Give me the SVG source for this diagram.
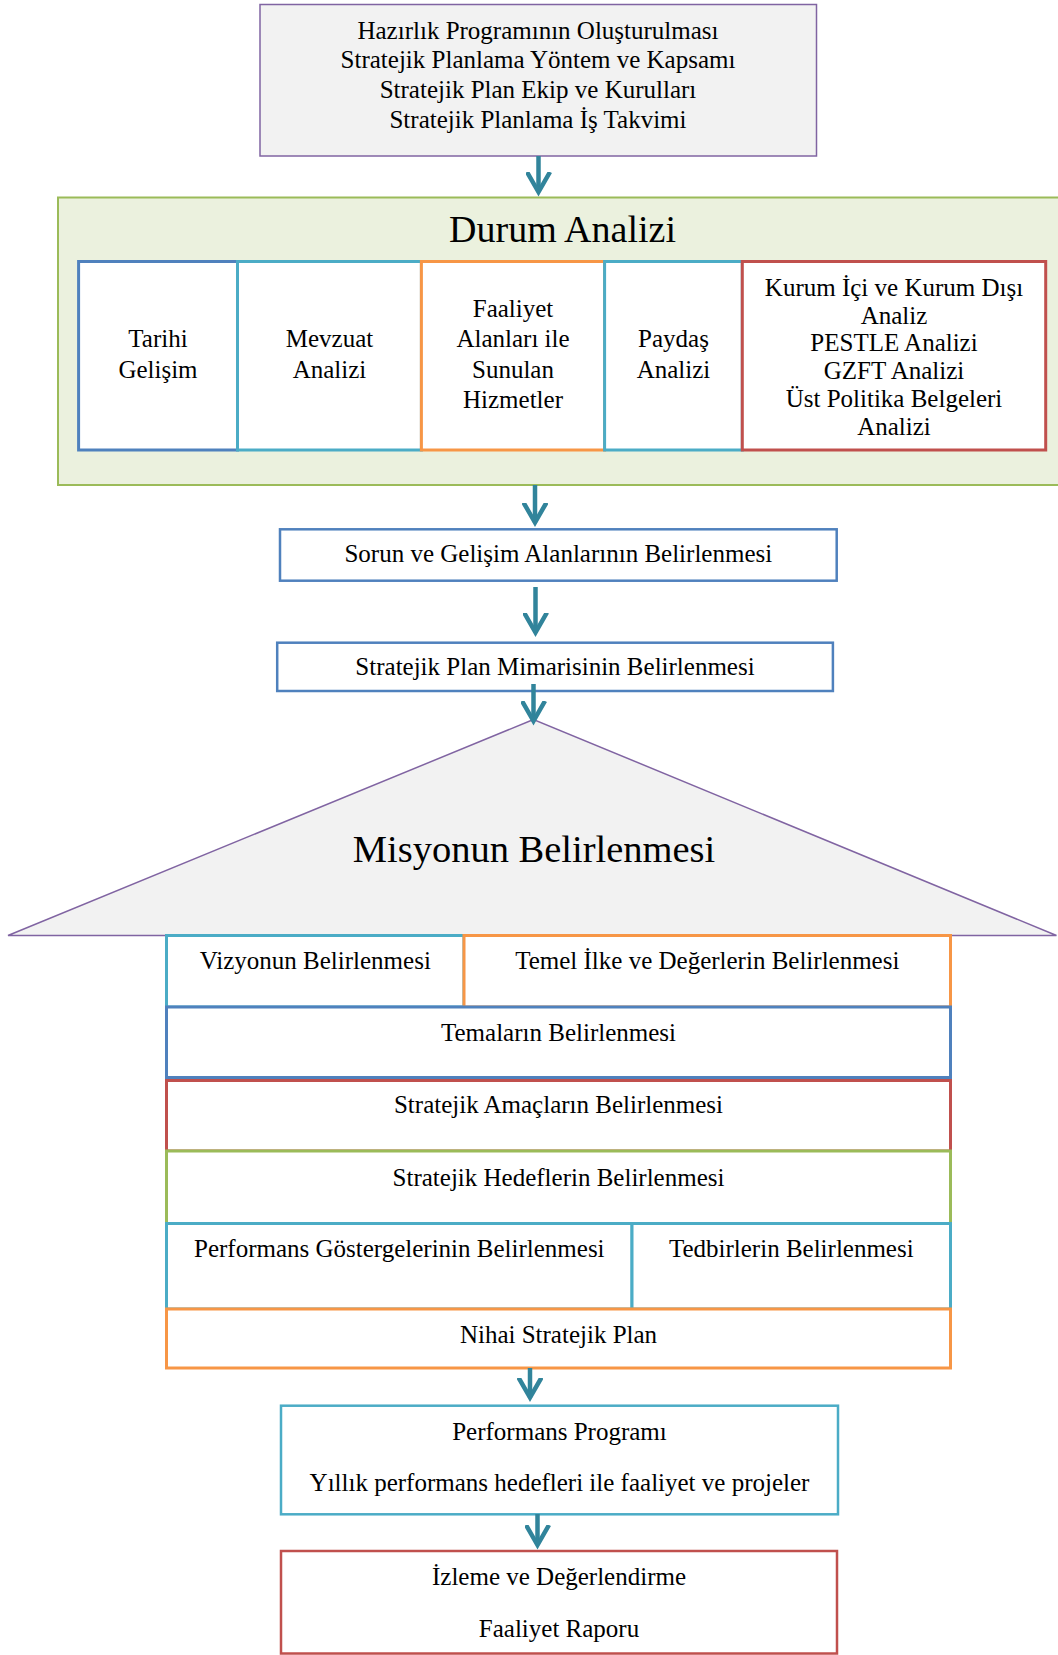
<svg xmlns="http://www.w3.org/2000/svg" width="1058" height="1655" viewBox="0 0 1058 1655">
<style>
text{font-family:"Liberation Serif","Times New Roman",serif;font-size:25px;fill:#000;text-anchor:middle}
.big{font-size:38px}
.mis{font-size:38.5px}
.w{fill:#fff}
.blue{stroke:#4f81bd}
.aqua{stroke:#4bacc6}
.orange{stroke:#f79646}
.red{stroke:#c0504d}
.green{stroke:#9bbb59}
.b3{stroke-width:3}
.b25{stroke-width:2.5}
.arrow{stroke:#31849b;stroke-width:4.5;fill:none;marker-end:url(#ah)}
</style>
<defs>
<marker id="ah" markerUnits="userSpaceOnUse" viewBox="0 0 26 26" refX="20" refY="13" markerWidth="26" markerHeight="26" orient="auto">
<path d="M0,1.5 L20,13 L0,24.5" fill="none" stroke="#31849b" stroke-width="4.5" stroke-linejoin="miter"/>
</marker>
</defs>

<g id="hazirlik">
<rect x="260" y="4.5" width="556.5" height="151.5" fill="#f2f2f2" stroke="#8064a2" stroke-width="1.5"/>
<text x="538" y="38.5">Hazırlık Programının Oluşturulması</text>
<text x="538" y="68.3">Stratejik Planlama Yöntem ve Kapsamı</text>
<text x="538" y="98.1">Stratejik Plan Ekip ve Kurulları</text>
<text x="538" y="127.9">Stratejik Planlama İş Takvimi</text>
</g>

<g id="durum-analizi">
<rect x="58" y="197.5" width="1010" height="287.5" fill="#ebf1de" stroke="#9bbb59" stroke-width="2"/>
<text class="big" x="562.5" y="241.7">Durum Analizi</text>
</g>

<g id="tarihi">
<rect class="w blue b3" x="78.6" y="261.5" width="158.9" height="188.5"/>
<text x="158" y="346.7">Tarihi</text>
<text x="158" y="377.7">Gelişim</text>
</g>
<g id="mevzuat">
<rect class="w aqua b3" x="237.5" y="261.5" width="183.9" height="188.5"/>
<text x="329.5" y="346.7">Mevzuat</text>
<text x="329.5" y="377.7">Analizi</text>
</g>
<g id="faaliyet">
<rect class="w orange b3" x="421.4" y="261.5" width="183.2" height="188.5"/>
<text x="513" y="316.7">Faaliyet</text>
<text x="513" y="346.7">Alanları ile</text>
<text x="513" y="377.7">Sunulan</text>
<text x="513" y="408.3">Hizmetler</text>
</g>
<g id="paydas">
<rect class="w aqua b3" x="604.6" y="261.5" width="137.7" height="188.5"/>
<text x="673.5" y="346.7">Paydaş</text>
<text x="673.5" y="377.7">Analizi</text>
</g>
<g id="kurum">
<rect class="w red b3" x="742.3" y="261.5" width="303.4" height="188.5"/>
<text x="894" y="296">Kurum İçi ve Kurum Dışı</text>
<text x="894" y="323.6">Analiz</text>
<text x="894" y="351.4">PESTLE Analizi</text>
<text x="894" y="379.2">GZFT Analizi</text>
<text x="894" y="407">Üst Politika Belgeleri</text>
<text x="894" y="434.8">Analizi</text>
</g>

<g id="sorun">
<rect class="w blue b25" x="280" y="529.3" width="556.7" height="51.4"/>
<text x="558.3" y="561.7">Sorun ve Gelişim Alanlarının Belirlenmesi</text>
</g>

<g id="mimari">
<rect class="w blue b25" x="277.2" y="642.7" width="555.7" height="48.3"/>
<text x="555" y="675.3">Stratejik Plan Mimarisinin Belirlenmesi</text>
</g>

<g id="misyon">
<polygon points="533.5,719.5 8,935.5 1056.5,935.5" fill="#f2f2f2" stroke="#8064a2" stroke-width="1.5"/>
<text class="mis" x="534" y="861.7">Misyonun Belirlenmesi</text>
</g>

<g id="vizyon">
<rect class="w aqua b3" x="166.5" y="935.5" width="297.5" height="71.5"/>
<text x="315.3" y="969.3">Vizyonun Belirlenmesi</text>
</g>
<g id="temel-ilke">
<rect class="w orange b3" x="464" y="935.5" width="486.5" height="71.5"/>
<text x="707.3" y="969.3">Temel İlke ve Değerlerin Belirlenmesi</text>
</g>
<g id="temalar">
<rect class="w blue b3" x="166.5" y="1007" width="784" height="70.5"/>
<text x="558.5" y="1040.7">Temaların Belirlenmesi</text>
</g>
<g id="amaclar">
<rect class="w red b3" x="166.5" y="1080.5" width="784" height="70.5"/>
<text x="558.5" y="1113.3">Stratejik Amaçların Belirlenmesi</text>
</g>
<g id="hedefler">
<rect class="w green b3" x="166.5" y="1151" width="784" height="72.5"/>
<text x="558.5" y="1185.7">Stratejik Hedeflerin Belirlenmesi</text>
</g>
<g id="gostergeler">
<rect class="w aqua b3" x="166.5" y="1223.5" width="465.5" height="85.5"/>
<text x="399.3" y="1257.3">Performans Göstergelerinin Belirlenmesi</text>
</g>
<g id="tedbirler">
<rect class="w aqua b3" x="632" y="1223.5" width="318.5" height="85.5"/>
<text x="791.3" y="1257.3">Tedbirlerin Belirlenmesi</text>
</g>
<g id="nihai">
<rect class="w orange b3" x="166.5" y="1309" width="784" height="59"/>
<text x="558.5" y="1342.7">Nihai Stratejik Plan</text>
</g>

<g id="performans-programi">
<rect class="w aqua b25" x="281" y="1405.7" width="557" height="108.6"/>
<text x="559.5" y="1439.5">Performans Programı</text>
<text x="559.5" y="1491">Yıllık performans hedefleri ile faaliyet ve projeler</text>
</g>

<g id="izleme">
<rect class="w red b25" x="281" y="1551" width="556" height="102.5"/>
<text x="559" y="1585.3">İzleme ve Değerlendirme</text>
<text x="559" y="1636.8">Faaliyet Raporu</text>
</g>

<g id="connectors">
<line class="arrow" x1="538.5" y1="156" x2="538.5" y2="192"/>
<line class="arrow" x1="535" y1="485" x2="535" y2="522.5"/>
<line class="arrow" x1="535.5" y1="587" x2="535.5" y2="632.5"/>
<line class="arrow" x1="533.5" y1="684" x2="533.5" y2="721"/>
<line class="arrow" x1="530" y1="1368" x2="530" y2="1397.5"/>
<line class="arrow" x1="537.5" y1="1514" x2="537.5" y2="1545"/>
</g>
</svg>
